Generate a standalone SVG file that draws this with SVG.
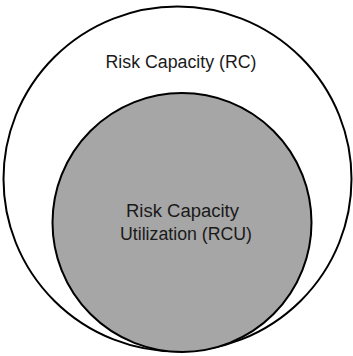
<svg xmlns="http://www.w3.org/2000/svg" width="353" height="356" viewBox="0 0 353 356">
<style>
.c{stroke:#000;stroke-width:2}
.t{font-family:"Liberation Sans",Arial,sans-serif;font-size:18px;fill:#1a1a1a;text-anchor:middle}
</style>
<rect width="353" height="356" fill="#fff"/>
<g id="rc">
<ellipse class="c" cx="177.5" cy="179" rx="174" ry="172.5" fill="#fff"/>
<text class="t" x="181" y="68" textLength="151" lengthAdjust="spacingAndGlyphs">Risk Capacity (RC)</text>
</g>
<g id="rcu">
<circle class="c" cx="182" cy="222.5" r="129.5" fill="#a6a6a6"/>
<text class="t" x="182.5" y="217" textLength="113" lengthAdjust="spacingAndGlyphs">Risk Capacity</text>
<text class="t" x="186" y="240" textLength="132" lengthAdjust="spacingAndGlyphs">Utilization (RCU)</text>
</g>
</svg>
